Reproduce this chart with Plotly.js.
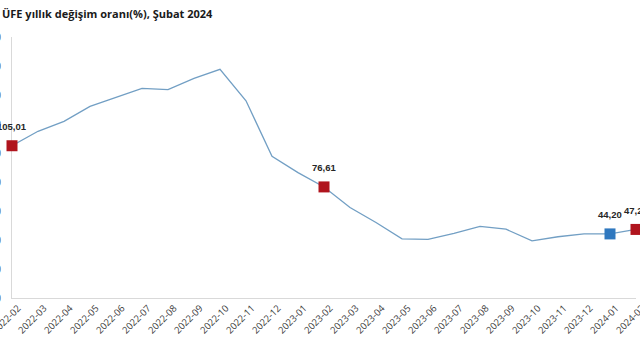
<!DOCTYPE html>
<html>
<head>
<meta charset="utf-8">
<script src="https://cdn.plot.ly/plotly-3.0.1.min.js"></script>
<style>
html,body{margin:0;padding:0;width:640px;height:360px;overflow:hidden;background:#fff;}
#chart{position:absolute;left:-40px;top:0;width:720px;height:360px;}
</style>
</head>
<body>
<div id="chart"></div>
<script>
const months = ["2022-02","2022-03","2022-04","2022-05","2022-06","2022-07","2022-08","2022-09","2022-10","2022-11","2022-12","2023-01","2023-02","2023-03","2023-04","2023-05","2023-06","2023-07","2023-08","2023-09","2023-10","2023-11","2023-12","2024-01","2024-02"];
const values = [105.01,114.97,121.82,132.16,138.31,144.61,143.75,151.50,157.69,136.02,97.72,86.46,76.61,62.45,52.11,40.76,40.42,44.50,49.41,47.44,39.39,42.25,44.22,44.20,47.29];
const redMonths = ["2022-02","2023-02","2024-02"];
const blueMonths = ["2024-01"];
const labelMonths = ["2022-02","2023-02","2024-01","2024-02"];
const titleText = "ÜFE yıllık değişim oranı(%), Şubat 2024";

const valOf = m => values[months.indexOf(m)];
const fmt = v => v.toFixed(2).replace('.', ',');

const traces = [
  {x: months, y: values, type: 'scatter', mode: 'lines',
   line: {color: '#729fc4', width: 1.3}, hoverinfo: 'skip', cliponaxis: false},
  {x: redMonths, y: redMonths.map(valOf), type: 'scatter', mode: 'markers',
   marker: {symbol: 'square', size: 11, color: '#b0141d'}, cliponaxis: false},
  {x: blueMonths, y: blueMonths.map(valOf), type: 'scatter', mode: 'markers',
   marker: {symbol: 'square', size: 11, color: '#2f78bf'}, cliponaxis: false}
];

const annotations = labelMonths.map(m => ({
  x: m, y: valOf(m), xref: 'x', yref: 'y', text: fmt(valOf(m)),
  showarrow: false, yshift: 19,
  font: {family: 'Liberation Sans, Arial, sans-serif', size: 9.5, color: '#262626', weight: 'bold'}
}));
annotations.push({
  xref: 'paper', yref: 'paper', x: -12/624, y: (298.3-14)/261, xanchor: 'left', yanchor: 'middle',
  text: '<b>' + titleText + '</b>', showarrow: false,
  font: {family: 'Open Sans, sans-serif', size: 11, color: '#1a1a1a'}
});

const layout = {
  width: 720, height: 360,
  margin: {l: 52, r: 44, t: 37, b: 62, pad: 0},
  paper_bgcolor: '#fff', plot_bgcolor: '#fff',
  showlegend: false,
  xaxis: {type: 'category', range: [0, 24], showgrid: false, zeroline: false,
          showline: true, linecolor: '#d9d9d9', linewidth: 1, ticks: '', layer: 'below traces',
          tickangle: -45, ticklabelstandoff: 0, ticklabelshift: 6,
          tickfont: {family: 'Open Sans, sans-serif', size: 9.5, color: '#404040'}},
  yaxis: {range: [0, 180], dtick: 20, showgrid: false, zeroline: false,
          showline: true, linecolor: '#d9d9d9', linewidth: 1, ticks: '', layer: 'below traces',
          ticklabelstandoff: 8,
          tickfont: {family: 'Open Sans, sans-serif', size: 10, color: '#404040'}},
  annotations: annotations
};

Plotly.newPlot('chart', traces, layout, {staticPlot: true, displayModeBar: false});
</script>
</body>
</html>
